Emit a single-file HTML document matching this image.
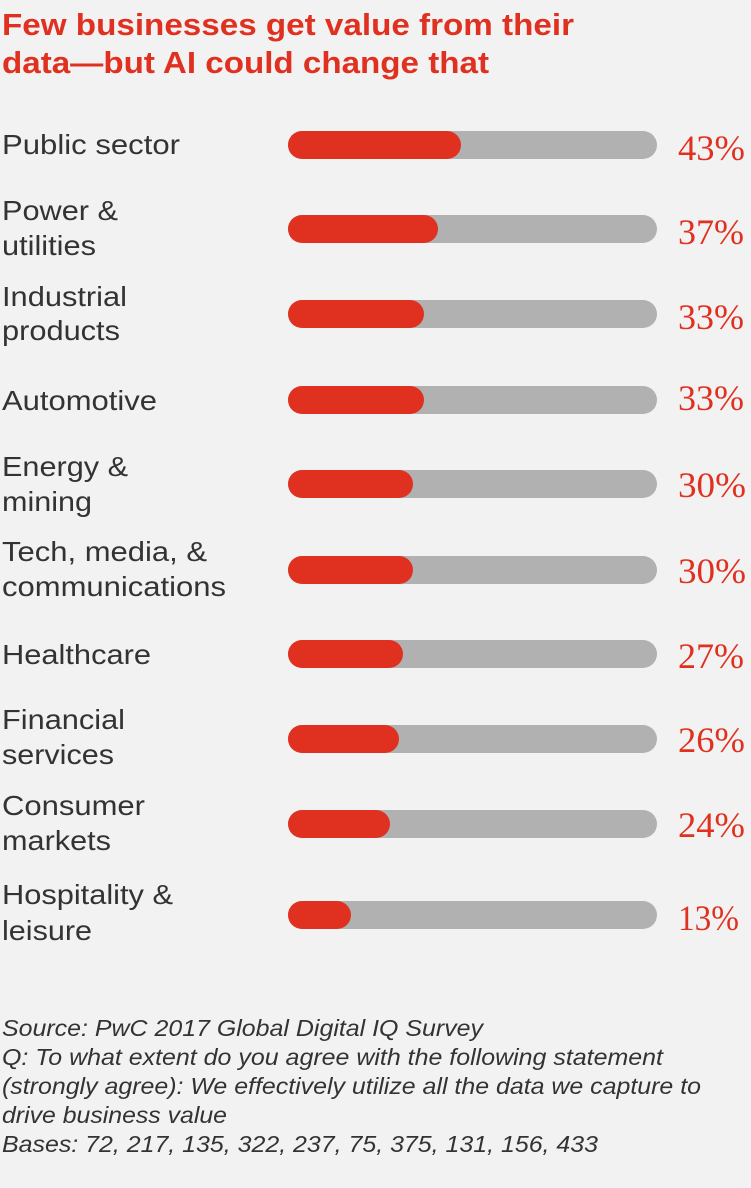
<!DOCTYPE html>
<html><head><meta charset="utf-8"><style>
html,body{margin:0;padding:0;background:#f2f2f2;}
svg{display:block;}
</style></head><body>
<svg width="751" height="1188" viewBox="0 0 751 1188" xmlns="http://www.w3.org/2000/svg">
<rect width="751" height="1188" fill="#f2f2f2"/>
<g font-family="Liberation Sans, sans-serif" font-weight="bold" fill="#e03120" font-size="31">
<text x="2" y="35" textLength="572" lengthAdjust="spacingAndGlyphs">Few businesses get value from their</text>
<text x="2" y="73" textLength="487" lengthAdjust="spacingAndGlyphs">data—but AI could change that</text>
</g>
<g font-family="Liberation Sans, sans-serif" fill="#333" font-size="28">
<text x="2" y="154" textLength="178" lengthAdjust="spacingAndGlyphs">Public sector</text>
<text x="2" y="220" textLength="116" lengthAdjust="spacingAndGlyphs">Power &amp;</text>
<text x="2" y="255" textLength="94" lengthAdjust="spacingAndGlyphs">utilities</text>
<text x="2" y="306" textLength="125" lengthAdjust="spacingAndGlyphs">Industrial</text>
<text x="2" y="340" textLength="118" lengthAdjust="spacingAndGlyphs">products</text>
<text x="2" y="410" textLength="155" lengthAdjust="spacingAndGlyphs">Automotive</text>
<text x="2" y="476" textLength="126" lengthAdjust="spacingAndGlyphs">Energy &amp;</text>
<text x="2" y="511" textLength="90" lengthAdjust="spacingAndGlyphs">mining</text>
<text x="2" y="561" textLength="205" lengthAdjust="spacingAndGlyphs">Tech, media, &amp;</text>
<text x="2" y="596" textLength="224" lengthAdjust="spacingAndGlyphs">communications</text>
<text x="2" y="664" textLength="149" lengthAdjust="spacingAndGlyphs">Healthcare</text>
<text x="2" y="729" textLength="123" lengthAdjust="spacingAndGlyphs">Financial</text>
<text x="2" y="764" textLength="112" lengthAdjust="spacingAndGlyphs">services</text>
<text x="2" y="815" textLength="143" lengthAdjust="spacingAndGlyphs">Consumer</text>
<text x="2" y="850" textLength="109" lengthAdjust="spacingAndGlyphs">markets</text>
<text x="2" y="904" textLength="171" lengthAdjust="spacingAndGlyphs">Hospitality &amp;</text>
<text x="2" y="940" textLength="90" lengthAdjust="spacingAndGlyphs">leisure</text>
</g>
<g>
<rect x="288" y="131" width="369" height="28" rx="14" fill="#b1b1b1"/><rect x="288" y="131" width="173" height="28" rx="14" fill="#e03120"/>
<rect x="288" y="215" width="369" height="28" rx="14" fill="#b1b1b1"/><rect x="288" y="215" width="150" height="28" rx="14" fill="#e03120"/>
<rect x="288" y="300" width="369" height="28" rx="14" fill="#b1b1b1"/><rect x="288" y="300" width="136" height="28" rx="14" fill="#e03120"/>
<rect x="288" y="386" width="369" height="28" rx="14" fill="#b1b1b1"/><rect x="288" y="386" width="136" height="28" rx="14" fill="#e03120"/>
<rect x="288" y="470" width="369" height="28" rx="14" fill="#b1b1b1"/><rect x="288" y="470" width="125" height="28" rx="14" fill="#e03120"/>
<rect x="288" y="556" width="369" height="28" rx="14" fill="#b1b1b1"/><rect x="288" y="556" width="125" height="28" rx="14" fill="#e03120"/>
<rect x="288" y="640" width="369" height="28" rx="14" fill="#b1b1b1"/><rect x="288" y="640" width="115" height="28" rx="14" fill="#e03120"/>
<rect x="288" y="725" width="369" height="28" rx="14" fill="#b1b1b1"/><rect x="288" y="725" width="111" height="28" rx="14" fill="#e03120"/>
<rect x="288" y="810" width="369" height="28" rx="14" fill="#b1b1b1"/><rect x="288" y="810" width="102" height="28" rx="14" fill="#e03120"/>
<rect x="288" y="901" width="369" height="28" rx="14" fill="#b1b1b1"/><rect x="288" y="901" width="63" height="28" rx="14" fill="#e03120"/>
</g>
<g font-family="Liberation Serif, serif" fill="#e03120" font-size="36">
<text x="678" y="160" textLength="67" lengthAdjust="spacingAndGlyphs">43%</text>
<text x="678" y="244" textLength="66" lengthAdjust="spacingAndGlyphs">37%</text>
<text x="678" y="329" textLength="66" lengthAdjust="spacingAndGlyphs">33%</text>
<text x="678" y="410" textLength="66" lengthAdjust="spacingAndGlyphs">33%</text>
<text x="678" y="497" textLength="68" lengthAdjust="spacingAndGlyphs">30%</text>
<text x="678" y="583" textLength="68" lengthAdjust="spacingAndGlyphs">30%</text>
<text x="678" y="668" textLength="66" lengthAdjust="spacingAndGlyphs">27%</text>
<text x="678" y="752" textLength="67" lengthAdjust="spacingAndGlyphs">26%</text>
<text x="678" y="837" textLength="67" lengthAdjust="spacingAndGlyphs">24%</text>
<text x="678" y="930" textLength="61" lengthAdjust="spacingAndGlyphs">13%</text>
</g>
<g font-family="Liberation Sans, sans-serif" font-style="italic" fill="#333" font-size="23">
<text x="2" y="1036" textLength="481" lengthAdjust="spacingAndGlyphs">Source: PwC 2017 Global Digital IQ Survey</text>
<text x="2" y="1065" textLength="661" lengthAdjust="spacingAndGlyphs">Q: To what extent do you agree with the following statement</text>
<text x="2" y="1094" textLength="699" lengthAdjust="spacingAndGlyphs">(strongly agree): We effectively utilize all the data we capture to</text>
<text x="2" y="1123" textLength="225" lengthAdjust="spacingAndGlyphs">drive business value</text>
<text x="2" y="1152" textLength="596" lengthAdjust="spacingAndGlyphs">Bases: 72, 217, 135, 322, 237, 75, 375, 131, 156, 433</text>
</g>
</svg>
</body></html>
